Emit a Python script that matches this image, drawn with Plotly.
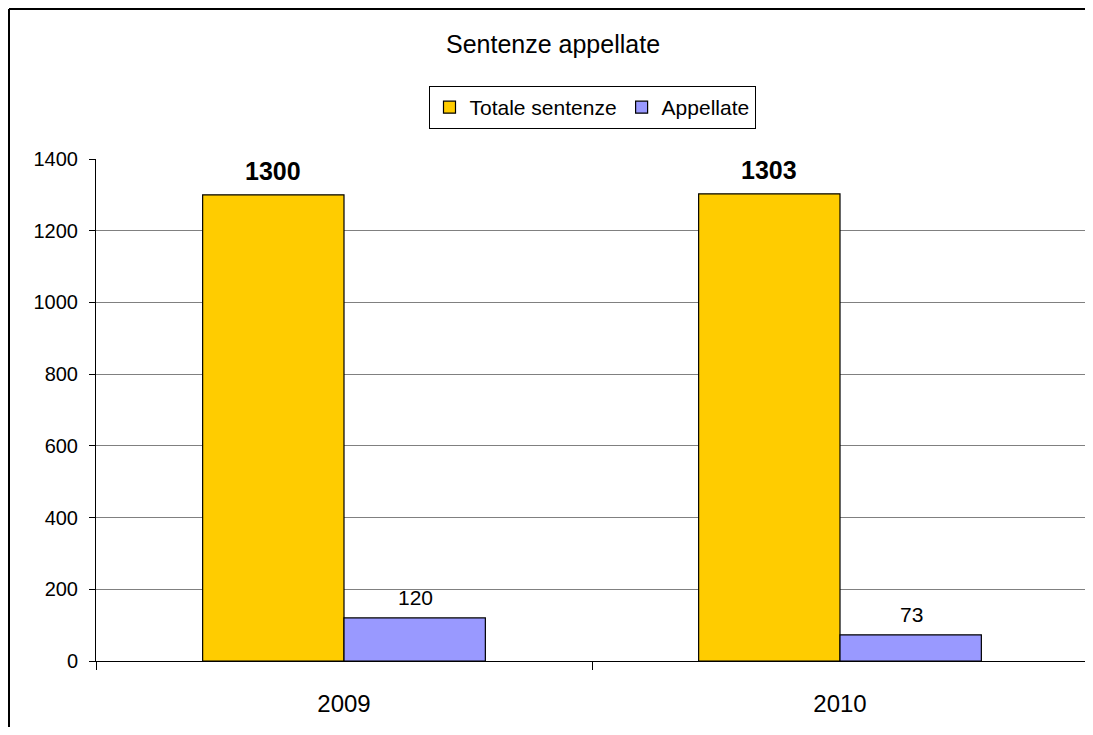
import plotly.graph_objects as go

years = ["2009", "2010"]
totale = [1300, 1303]
appellate = [120, 73]
series_names = ["Totale sentenze", "Appellate"]
y_ticks = [0, 200, 400, 600, 800, 1000, 1200, 1400]

GOLD = "#FFCC00"
LAV = "#9999FF"
FONT = "Arial, Liberation Sans, sans-serif"

# The page adds an 8px body margin; the figure is sized so the page does not scroll.
W, H = 1085, 719
L, R, T, B = 88, 5, 151, 66
PW, PH = W - L - R, H - T - B

fig = go.Figure()
fig.add_trace(go.Bar(x=years, y=totale, name=series_names[0],
                     marker=dict(color=GOLD, line=dict(color="black", width=1.2))))
fig.add_trace(go.Bar(x=years, y=appellate, name=series_names[1],
                     marker=dict(color=LAV, line=dict(color="black", width=1.2))))

annotations = []
for i, v in enumerate(totale):
    annotations.append(dict(x=i, y=v, xref="x", yref="y", text=str(v), showarrow=False, xshift=-71,
                            yanchor="bottom", yshift=8,
                            font=dict(family=FONT, size=25, color="black", weight="bold")))
for i, v in enumerate(appellate):
    annotations.append(dict(x=i, y=v, xref="x", yref="y", text=str(v), showarrow=False, xshift=71,
                            yanchor="bottom", yshift=7,
                            font=dict(family=FONT, size=21, color="black")))

fig.update_layout(
    width=W, height=H,
    margin=dict(l=L, r=R, t=T, b=B),
    paper_bgcolor="white", plot_bgcolor="white",
    font=dict(family=FONT, color="black"),
    barmode="group", bargap=0.43, bargroupgap=0,
    title=dict(text="Sentenze appellate", xref="container", x=545 / W, xanchor="center",
               y=1 - 36 / H, yanchor="middle",
               font=dict(size=25, color="black")),
    showlegend=True,
    legend=dict(orientation="h", x=0.5, xanchor="center", y=(PH + T - 78) / PH,
                yanchor="top",
                bordercolor="black", borderwidth=1, bgcolor="white",
                font=dict(size=21), traceorder="normal", itemwidth=30, tracegroupgap=0),
    annotations=annotations,
    xaxis=dict(type="category", range=[-0.5, 1.5], autorange=False,
               tickson="boundaries", ticks="outside", ticklen=8,
               tickcolor="black", showline=True, linecolor="black", linewidth=1,
               showgrid=False, tickfont=dict(size=24), ticklabelstandoff=21, fixedrange=True),
    yaxis=dict(range=[0, 1400], autorange=False, tickvals=y_ticks, ticks="outside", ticklen=6,
               tickcolor="black", showline=True, linecolor="black", linewidth=1,
               showgrid=True, gridcolor="#808080", gridwidth=1, zeroline=False,
               tickfont=dict(size=20), ticklabelstandoff=7, fixedrange=True),
    shapes=[
        dict(type="line", xref="paper", yref="paper", x0=1, x1=1, y0=0, y1=1,
             line=dict(color="#808080", width=1)),
        # outer chart border: only top and left edges are visible in the frame
        dict(type="line", xref="paper", yref="paper",
             x0=(1 - L) / PW, x1=(W - L) / PW, y0=(PH + T - 1) / PH, y1=(PH + T - 1) / PH,
             line=dict(color="black", width=2)),
        dict(type="line", xref="paper", yref="paper",
             x0=(1 - L) / PW, x1=(1 - L) / PW, y0=-B / PH, y1=(PH + T - 1) / PH,
             line=dict(color="black", width=2)),
    ],
)

fig.write_html("out.html")
